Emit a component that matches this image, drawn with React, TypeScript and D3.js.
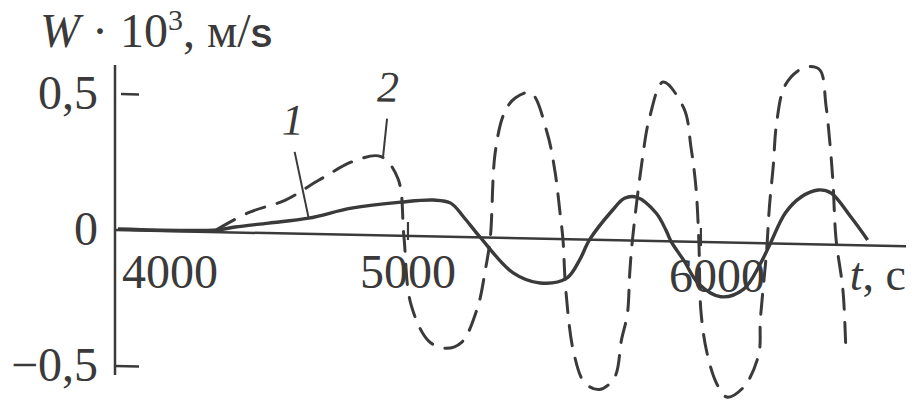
import React from 'react';
import * as d3 from 'd3';

// curve 1 (solid) — t in seconds, W·10^3 in m/s
const T_SOLID = [4010, 4349, 4410, 4525, 4661, 4807, 4976, 5088, 5146, 5190, 5247, 5359, 5451, 5542, 5586, 5620, 5698, 5739, 5780, 5847, 5881, 5898, 5942, 5993, 6068, 6146, 6203, 6237, 6288, 6342, 6400, 6444, 6512, 6569];
const W_SOLID = [0.004, 0.008, 0.02, 0.037, 0.058, 0.098, 0.124, 0.134, 0.124, 0.074, 0, -0.128, -0.163, -0.143, -0.075, 0, 0.11, 0.155, 0.16, 0.103, 0.04, 0, -0.07, -0.155, -0.2, -0.17, -0.075, 0, 0.113, 0.173, 0.2, 0.19, 0.103, 0.02];

// curve 2 (dashed)
const T_DASHED = [4349, 4458, 4580, 4698, 4817, 4908, 4966, 4986, 5010, 5071, 5129, 5183, 5237, 5264, 5281, 5298, 5329, 5366, 5420, 5475, 5502, 5519, 5529, 5539, 5566, 5603, 5654, 5705, 5729, 5749, 5757, 5766, 5800, 5824, 5871, 5942, 5966, 5983, 5993, 6000, 6020, 6054, 6088, 6146, 6197, 6203, 6224, 6234, 6247, 6258, 6285, 6332, 6373, 6407, 6427, 6441, 6451, 6461, 6485, 6495];
const W_DASHED = [0.01, 0.075, 0.122, 0.2, 0.272, 0.29, 0.21, 0, -0.25, -0.385, -0.41, -0.387, -0.26, -0.12, 0, 0.315, 0.46, 0.515, 0.535, 0.39, 0.247, 0.097, 0, -0.19, -0.417, -0.526, -0.55, -0.505, -0.365, -0.27, -0.12, 0, 0.3, 0.45, 0.585, 0.49, 0.348, 0.2, 0, -0.254, -0.404, -0.52, -0.568, -0.53, -0.41, -0.28, -0.03, 0.138, 0.286, 0.44, 0.577, 0.637, 0.653, 0.64, 0.51, 0.364, 0.225, 0.023, -0.17, -0.4];

const X_TICKS = [4000, 5000, 6000];
const X_TICK_LABELS = ['4000', '5000', '6000'];
const Y_TICKS = [0.5, 0, -0.5];
const Y_TICK_LABELS = ['0,5', '0', '\u22120,5'];

const INK = '#3a3a3a';
const SERIF = '"Liberation Serif", "Times New Roman", serif';

export default function App() {
  const x = d3.scaleLinear().domain([4000, 6700]).range([115, 906]);
  const y = d3.scaleLinear().domain([-0.5, 0.5]).range([366, 94]);
  const x0 = x(4000);
  const skew = 1.17; // the scanned axis droops slightly to the right

  const line = d3.line<[number, number]>()
    .x(d => x(d[0]))
    .y(d => y(d[1]))
    .curve(d3.curveCatmullRom.alpha(0.5));

  const solid = line(T_SOLID.map((t, i) => [t, W_SOLID[i]]));
  const dashed = line(T_DASHED.map((t, i) => [t, W_DASHED[i]]));

  // leader anchors on the curves
  const a1 = [x(4661), y(0.058)];
  const a2 = [x(4915), y(0.29)];

  return (
    <svg width={912} height={404} style={{ position: 'absolute', left: 0, top: 0, background: '#fff' }}>
      <text x={40} y={47} fontFamily={SERIF} fontSize={48} fill={INK}>
        <tspan fontStyle="italic">W</tspan>
        <tspan> · 10</tspan>
        <tspan fontSize={30} dy={-17}>3</tspan>
        <tspan dy={17}>, м/</tspan>
        <tspan fontFamily='"Liberation Sans", Arial, sans-serif' fontWeight="bold" fontSize={32}>S</tspan>
      </text>

      {Y_TICKS.map((v, i) => (
        <text key={'yl' + i} x={98} y={y(v) + 15} textAnchor="end" fontFamily={SERIF} fontSize={48} fill={INK}>
          {Y_TICK_LABELS[i]}
        </text>
      ))}

      {X_TICKS.map((t, i) => (
        <text key={'xl' + i} x={i === 0 ? x(t) + 7 : x(t) + (i === 2 ? 16 : 0)} y={i === 2 ? 292 : 288}
          textAnchor={i === 0 ? 'start' : 'middle'} fontFamily={SERIF} fontSize={48} fill={INK}>
          {X_TICK_LABELS[i]}
        </text>
      ))}

      <text x={906} y={290} textAnchor="end" fontFamily={SERIF} fontSize={46} fill={INK}>
        <tspan fontStyle="italic">t</tspan>, c
      </text>

      <g transform={`translate(${x0},0) skewY(${skew}) translate(${-x0},0)`}>
        {/* y axis */}
        <line x1={x0} x2={x0} y1={65} y2={375} stroke={INK} strokeWidth={2.5} />
        {Y_TICKS.filter(v => v !== 0).map((v, i) => (
          <line key={'yt' + i} x1={x0 + (v > 0 ? 6 : 0)} x2={x0 + 24} y1={y(v)} y2={y(v)} stroke={INK} strokeWidth={2.5} />
        ))}
        {/* x axis */}
        <line x1={x0} x2={x(6700)} y1={y(0)} y2={y(0)} stroke={INK} strokeWidth={2.5} />
        {X_TICKS.slice(1).map((t, i) => (
          <line key={'xt' + i} x1={x(t)} x2={x(t)} y1={y(0) - 14} y2={y(0) + 4} stroke={INK} strokeWidth={2.2} />
        ))}

        <path d={solid ?? ''} fill="none" stroke={INK} strokeWidth={3.4} strokeLinejoin="round" />
        <path d={dashed ?? ''} fill="none" stroke={INK} strokeWidth={3} strokeDasharray="20 13" strokeLinecap="round" />

        {/* leaders and curve numbers */}
        <line x1={a1[0]} y1={a1[1]} x2={a1[0] - 14} y2={a1[1] - 66} stroke={INK} strokeWidth={2} />
        <text x={a1[0] - 16} y={a1[1] - 83} textAnchor="middle" fontFamily={SERIF} fontStyle="italic" fontSize={44} fill={INK}>1</text>
        <line x1={a2[0]} y1={a2[1]} x2={a2[0] + 4} y2={a2[1] - 38} stroke={INK} strokeWidth={2} />
        <text x={a2[0] + 5} y={a2[1] - 55} textAnchor="middle" fontFamily={SERIF} fontStyle="italic" fontSize={44} fill={INK}>2</text>
      </g>
    </svg>
  );
}
